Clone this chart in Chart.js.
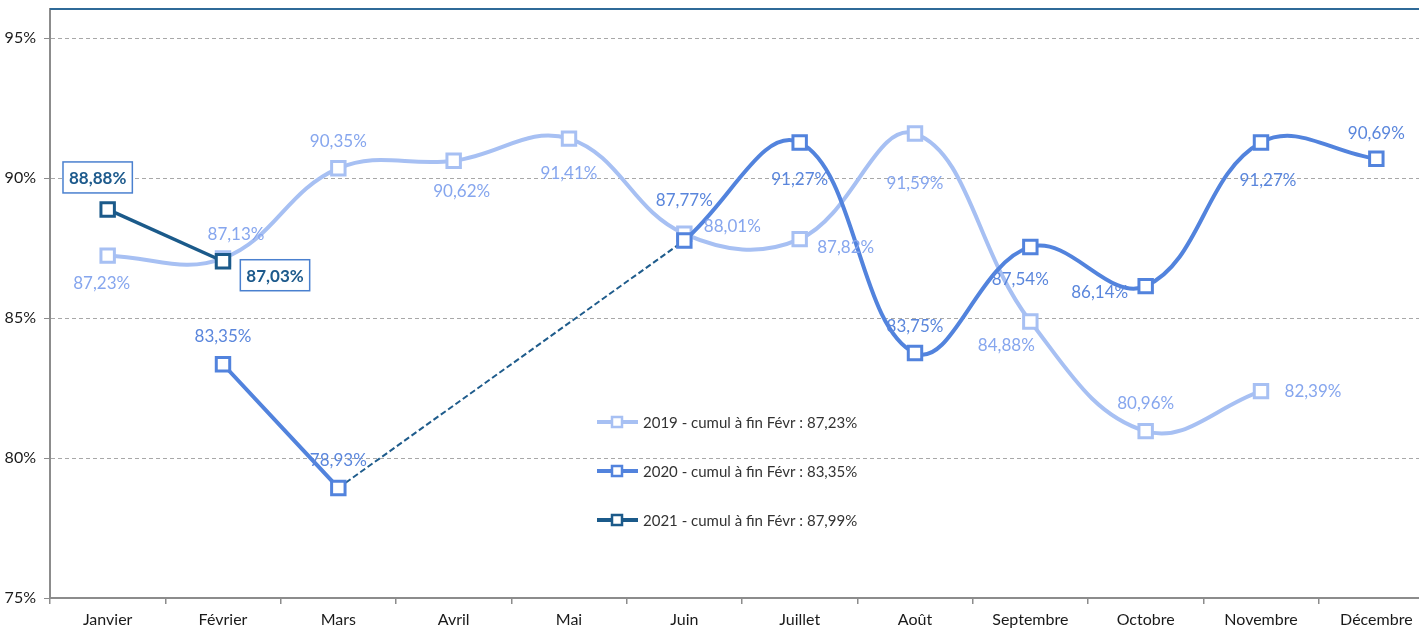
<!DOCTYPE html>
<html lang="fr">
<head>
  <meta charset="UTF-8">
  <title>Taux cumulé par mois</title>
  <script src="https://cdn.jsdelivr.net/npm/chart.js"></script>
  <style>
    body { margin: 0; background: #fff; overflow: hidden; }
    /* the plot runs past the right edge of the picture, so the canvas is wider and cropped */
    #wrap { width: 1419px; height: 629px; overflow: hidden; }
  </style>
</head>
<body>
<div id="wrap">
  <canvas id="chart" width="1434" height="629"></canvas>
</div>

<script>
  const months = ['Janvier', 'Février', 'Mars', 'Avril', 'Mai', 'Juin', 'Juillet', 'Août', 'Septembre', 'Octobre', 'Novembre', 'Décembre'];

  const values2019 = [87.23, 87.13, 90.35, 90.62, 91.41, 88.01, 87.82, 91.59, 84.88, 80.96, 82.39, null];
  const values2020 = [null, 83.35, 78.93, null, null, 87.77, 91.27, 83.75, 87.54, 86.14, 91.27, 90.69];
  const values2021 = [88.88, 87.03, null, null, null, null, null, null, null, null, null, null];

  const legendLabels = [
    '2019 - cumul à fin Févr : 87,23%',
    '2020 - cumul à fin Févr : 83,35%',
    '2021 - cumul à fin Févr : 87,99%'
  ];

  const yTicks = [75, 80, 85, 90, 95];

  // dashed link across the 2020 gap (Mars -> Juin)
  const gapLink = values2020.map((v, i) => (i === 2 || i === 5) ? v : null);

  // where each value label sits, relative to its point (dx, dy)
  const labelPos2019 = [[-6, 27], [13, -25], [0, -28], [8, 30], [0, 34], [48, -8], [46, 7], [0, 49], [-24, 23], [0, -29], [52, -1], null];
  const labelPos2020 = [null, [0, -29], [0, -28], null, null, [0, -41], [0, 36], [0, -28], [-10, 32], [-46, 5], [7, 37], [0, -26]];
  const labelPos2021 = [[-10, -32], [52, 14]];

  const fmt = v => v.toFixed(2).replace('.', ',') + '%';

  const valueLabels = {
    id: 'valueLabels',
    afterDatasetsDraw(chart) {
      const ctx = chart.ctx;
      chart.data.datasets.forEach((ds, di) => {
        if (!ds.labelPos) return;
        const meta = chart.getDatasetMeta(di);
        ds.data.forEach((v, i) => {
          if (v === null || !ds.labelPos[i]) return;
          const pt = meta.data[i];
          const x = pt.x + ds.labelPos[i][0];
          const y = pt.y + ds.labelPos[i][1];
          const txt = fmt(v);
          ctx.save();
          ctx.font = (ds.labelBold ? 'bold ' : '') + '17px Lato';
          ctx.textAlign = 'center';
          ctx.textBaseline = 'middle';
          if (ds.labelBox) {
            const w = ctx.measureText(txt).width + 12;
            const h = 31;
            ctx.fillStyle = '#fff';
            ctx.fillRect(x - w / 2, y - h / 2, w, h);
            ctx.strokeStyle = '#4a80cf';
            ctx.lineWidth = 1.5;
            ctx.strokeRect(x - w / 2, y - h / 2, w, h);
          }
          ctx.fillStyle = ds.labelColor;
          ctx.fillText(txt, x, y + 1);
          ctx.restore();
        });
      });
    }
  };

  const frameAndLegend = {
    id: 'frameAndLegend',
    afterDraw(chart) {
      const ctx = chart.ctx;
      const a = chart.chartArea;
      ctx.save();
      // top frame line
      ctx.strokeStyle = '#2f6a98';
      ctx.lineWidth = 2;
      ctx.beginPath();
      ctx.moveTo(a.left, a.top);
      ctx.lineTo(a.right, a.top);
      ctx.stroke();

      // legend in the middle of the plot
      let y = 422;
      chart.data.datasets.forEach(ds => {
        if (!ds.inLegend) return;
        ctx.strokeStyle = ds.borderColor;
        ctx.lineWidth = 4;
        ctx.beginPath();
        ctx.moveTo(597, y);
        ctx.lineTo(638, y);
        ctx.stroke();
        ctx.fillStyle = '#fff';
        ctx.lineWidth = 2.5;
        ctx.fillRect(612, y - 5, 10, 10);
        ctx.strokeRect(612, y - 5, 10, 10);
        ctx.fillStyle = '#333';
        ctx.font = '15px Lato';
        ctx.textBaseline = 'middle';
        ctx.textAlign = 'left';
        ctx.fillText(ds.label, 643, y + 1);
        y += 49;
      });
      ctx.restore();
    }
  };

  const pointStyle = {
    pointStyle: 'rect',
    pointRadius: 9.5,
    pointHoverRadius: 9.5,
    pointBorderWidth: 3,
    pointBackgroundColor: '#fff'
  };

  new Chart(document.getElementById('chart'), {
    type: 'line',
    data: {
      labels: months,
      datasets: [
        {
          label: legendLabels[0],
          data: values2019,
          borderColor: '#a7c0f3',
          pointBorderColor: '#a7c0f3',
          borderWidth: 4,
          tension: 0.4,
          ...pointStyle,
          order: 4,
          inLegend: true,
          labelPos: labelPos2019,
          labelColor: '#86a6ee'
        },
        {
          label: legendLabels[1],
          data: values2020,
          borderColor: '#5283dd',
          pointBorderColor: '#5283dd',
          borderWidth: 4,
          tension: 0.4,
          ...pointStyle,
          order: 2,
          inLegend: true,
          labelPos: labelPos2020,
          labelColor: '#5a86dc'
        },
        {
          label: 'lien',
          data: gapLink,
          borderColor: '#1f5c8c',
          borderWidth: 2,
          borderDash: [6, 3],
          spanGaps: true,
          pointRadius: 0,
          pointHoverRadius: 0,
          order: 3
        },
        {
          label: legendLabels[2],
          data: values2021,
          borderColor: '#1b5a8a',
          pointBorderColor: '#1b5a8a',
          borderWidth: 3.5,
          tension: 0,
          ...pointStyle,
          order: 1,
          inLegend: true,
          labelPos: labelPos2021,
          labelColor: '#1d5a8c',
          labelBold: true,
          labelBox: true
        }
      ]
    },
    options: {
      responsive: false,
      animation: false,
      layout: { autoPadding: false, padding: { top: 9, right: 0, left: 0, bottom: 0 } },
      plugins: {
        legend: { display: false },
        tooltip: { enabled: false }
      },
      scales: {
        x: {
          offset: true,
          grid: {
            offset: true,
            drawOnChartArea: false,
            tickLength: 6,
            color: '#8c8c8c',
            lineWidth: 1.5
          },
          border: { color: '#8c8c8c', width: 2 },
          ticks: {
            color: '#1a1a1a',
            font: { family: 'Lato', size: 16 },
            padding: 6,
            maxRotation: 0
          },
          afterFit(scale) {
            scale.height = 31;
            scale.paddingLeft = 0;
            scale.paddingRight = 0;
          }
        },
        y: {
          min: 75,
          max: 96.04,
          afterBuildTicks(scale) {
            scale.ticks = yTicks.map(v => ({ value: v }));
          },
          ticks: {
            color: '#1a1a1a',
            font: { family: 'Lato', size: 16 },
            padding: 8,
            callback: v => v + '%'
          },
          grid: {
            color: '#a8a8a8',
            tickColor: '#8c8c8c',
            tickLength: 6,
            lineWidth: 1
          },
          border: { color: '#8c8c8c', width: 2, dash: [4, 3] },
          afterFit(scale) {
            scale.width = 50;
            scale.paddingTop = 0;
            scale.paddingBottom = 0;
          }
        }
      }
    },
    plugins: [valueLabels, frameAndLegend]
  });
</script>
</body>
</html>
